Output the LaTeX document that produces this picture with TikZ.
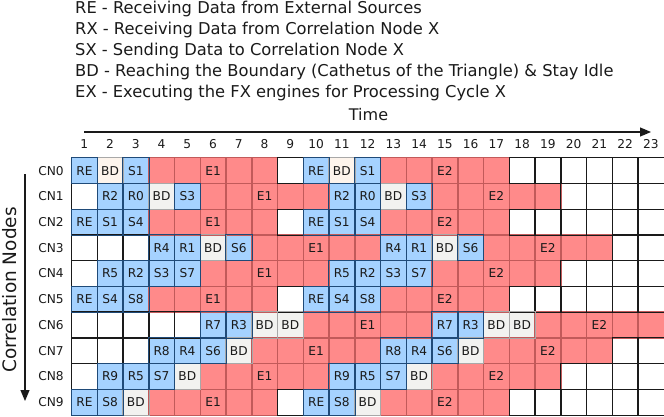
\documentclass[tikz,border=0pt]{standalone}
\usepackage{fontspec}
\setmainfont{DejaVu Sans}
\usetikzlibrary{arrows.meta}
\definecolor{cblue}{HTML}{A5D2FF}
\definecolor{cblueb}{HTML}{1F4A78}
\definecolor{cred}{HTML}{FF8A8A}
\definecolor{credb}{HTML}{C25A5A}
\definecolor{cgray}{HTML}{F2F2F0}
\definecolor{cgrayb}{HTML}{A8A8A8}
\definecolor{cpale}{HTML}{FDF4EC}
\definecolor{cink}{HTML}{1A1A1A}
\begin{document}
\begin{tikzpicture}[x=1pt,y=-1pt,
  cell/.style={minimum width=25.75pt,minimum height=25.72pt,inner sep=0pt,draw=none,
    font=\fontsize{12.2}{14}\selectfont,text=cink},
  fillw/.style={fill=white}, fillb/.style={fill=cblue}, fillr/.style={fill=cred},
  fillg/.style={fill=cgray}, fillp/.style={fill=cpale},
  edgew/.style={draw=cink,line width=0.8pt},
  edgeb/.style={draw=cblueb,line width=0.8pt},
  edger/.style={draw=credb,line width=0.8pt},
  edgeg/.style={draw=cgrayb,line width=0.8pt},
  edgep/.style={draw=cgrayb,line width=0.8pt},
  legend/.style={anchor=base west,inner sep=0pt,font=\fontsize{16.3}{19}\selectfont,text=cink},
  collab/.style={anchor=base,inner sep=0pt,font=\fontsize{12.2}{14}\selectfont,text=cink},
  rowlab/.style={inner sep=0pt,font=\fontsize{12.2}{14}\selectfont,text=cink},
  axlab/.style={inner sep=0pt,font=\fontsize{16}{18}\selectfont,text=cink},
  sidelab/.style={inner sep=0pt,font=\fontsize{18.5}{20}\selectfont,text=cink},
  arr/.style={draw=cink,line width=1.2pt,-{Triangle[length=11pt,width=9pt]}}]
\useasboundingbox (0,0) rectangle (664,417);

% legend
\node[legend] (leg1) at (75,13.8) {RE - Receiving Data from External Sources};
\node[legend] (leg2) at (75,34.8) {RX - Receiving Data from Correlation Node X};
\node[legend] (leg3) at (75,55.8) {SX - Sending Data to Correlation Node X};
\node[legend] (leg4) at (75,76.8) {BD - Reaching the Boundary (Cathetus of the Triangle) \& Stay Idle};
\node[legend] (leg5) at (75,97.8) {EX - Executing the FX engines for Processing Cycle X};

% time axis
\node[axlab,anchor=base] (time) at (368.5,120.7) {Time};
\coordinate (tA) at (84,132);
\coordinate (tB) at (651,132);
\draw[arr] (tA) -- (tB);
\foreach \c in {1,...,23}
  \node[collab] (col\c) at ({71.5+(\c-0.5)*25.75},149) {\c};

% node axis
\node[sidelab,rotate=90] (cnl) at (9.5,290) {Correlation Nodes};
\coordinate (nA) at (25,174);
\coordinate (nB) at (25,401);
\draw[arr] (nA) -- (nB);
\foreach \r in {0,...,9}
  \node[rowlab] (cn\r) at (51,{157.7+(\r+0.5)*25.72}) {CN\r};

\def\rowlist{%
{b/RE,p/BD,b/S1,r/,r/,r/E1,r/,r/,w/,b/RE,p/BD,b/S1,r/,r/,r/E2,r/,r/,w/,w/,w/,w/,w/,w/},%
{w/,b/R2,b/R0,g/BD,b/S3,r/,r/,r/E1,r/,r/,b/R2,b/R0,g/BD,b/S3,r/,r/,r/E2,r/,r/,w/,w/,w/,w/},%
{b/RE,b/S1,b/S4,r/,r/,r/E1,r/,r/,w/,b/RE,b/S1,b/S4,r/,r/,r/E2,r/,r/,w/,w/,w/,w/,w/,w/},%
{w/,w/,w/,b/R4,b/R1,g/BD,b/S6,r/,r/,r/E1,r/,r/,b/R4,b/R1,g/BD,b/S6,r/,r/,r/E2,r/,r/,w/,w/},%
{w/,b/R5,b/R2,b/S3,b/S7,r/,r/,r/E1,r/,r/,b/R5,b/R2,b/S3,b/S7,r/,r/,r/E2,r/,r/,w/,w/,w/,w/},%
{b/RE,b/S4,b/S8,r/,r/,r/E1,r/,r/,w/,b/RE,b/S4,b/S8,r/,r/,r/E2,r/,r/,w/,w/,w/,w/,w/,w/},%
{w/,w/,w/,w/,w/,b/R7,b/R3,g/BD,g/BD,r/,r/,r/E1,r/,r/,b/R7,b/R3,g/BD,g/BD,r/,r/,r/E2,r/,r/},%
{w/,w/,w/,b/R8,b/R4,b/S6,g/BD,r/,r/,r/E1,r/,r/,b/R8,b/R4,b/S6,g/BD,r/,r/,r/E2,r/,r/,w/,w/},%
{w/,b/R9,b/R5,b/S7,g/BD,r/,r/,r/E1,r/,r/,b/R9,b/R5,b/S7,g/BD,r/,r/,r/E2,r/,r/,w/,w/,w/,w/},%
{b/RE,b/S8,g/BD,r/,r/,r/E1,r/,r/,w/,b/RE,b/S8,g/BD,r/,r/,r/E2,r/,r/,w/,w/,w/,w/,w/,w/}}

% cells (fill + text)
\foreach \rowdata [count=\r from 0] in \rowlist {
  \foreach \s/\t [count=\c] in \rowdata {
    \node[cell,fill\s] (c\r-\c) at ({71.5+(\c-0.5)*25.75},{157.7+(\r+0.5)*25.72}) {\t};
  }
}
% borders, layered: red, white, gray, pale, blue
\foreach \pass in {r,w,g,p,b} {
  \foreach \rowdata [count=\r from 0] in \rowlist {
    \foreach \s/\t [count=\c] in \rowdata {
      \edef\curtype{\s}\edef\curpass{\pass}
      \ifx\curtype\curpass
        \draw[edge\s] (c\r-\c.south west) rectangle (c\r-\c.north east);
      \fi
    }
  }
}
\end{tikzpicture}
\end{document}
